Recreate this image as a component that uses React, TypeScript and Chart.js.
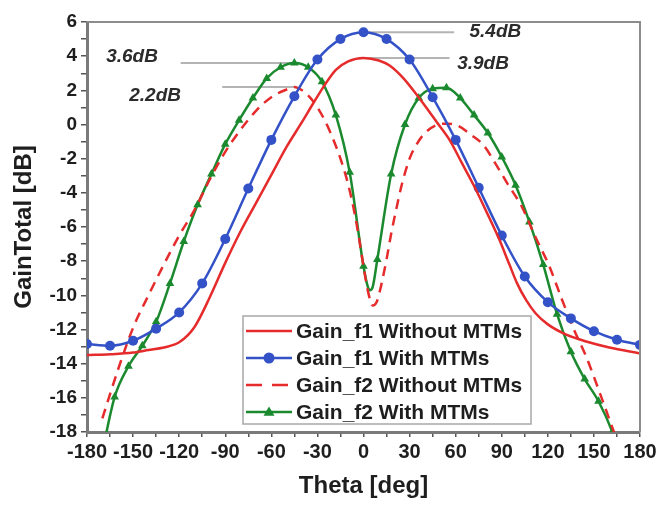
import React, { useEffect, useRef } from "react";
import { Chart, registerables } from "chart.js";

Chart.register(...registerables);

// ---------- data ----------
const seriesNames = [
  "Gain_f1 Without MTMs",
  "Gain_f1 With MTMs",
  "Gain_f2 Without MTMs",
  "Gain_f2 With MTMs",
];

const thetaF1Without = [-180, -165, -150, -140, -130, -120, -110, -100, -90, -80, -70, -60, -50, -40, -33, -25, -18, -10, 0, 10, 17, 25, 32, 40, 48, 56, 64, 72, 80, 88, 95, 100, 106, 112, 120, 132, 145, 160, 180];
const gainF1Without = [-13.5, -13.45, -13.35, -13.2, -13.05, -12.75, -11.85, -10.1, -8.1, -6.25, -4.6, -2.95, -1.3, 0.15, 1.2, 2.35, 3.2, 3.7, 3.9, 3.75, 3.45, 2.8, 2.05, 1.1, 0.1, -0.9, -2.25, -3.6, -5.1, -6.65, -8.2, -9.3, -10.3, -11.05, -11.7, -12.3, -12.7, -13.05, -13.4];

const thetaF1With = [-180, -165, -150, -135, -120, -105, -90, -75, -60, -45, -30, -15, 0, 15, 30, 45, 60, 75, 90, 105, 120, 135, 150, 165, 180];
const gainF1With = [-12.85, -12.95, -12.66, -11.95, -11.0, -9.3, -6.7, -3.75, -0.9, 1.65, 3.8, 5.0, 5.4, 5.0, 3.8, 1.6, -0.9, -3.7, -6.5, -8.9, -10.4, -11.35, -12.1, -12.6, -12.9];

const thetaF2Without = [-170, -160, -150, -140, -130, -120, -110, -100, -90, -80, -70, -60, -50, -45, -40, -35, -30, -25, -20, -15, -10, -6, -3, 0, 3, 6, 8.5, 10.5, 12.5, 15, 18, 21, 25, 30, 35, 40, 47, 55, 62, 70, 78, 86, 94, 103, 112, 121, 129, 137, 145, 155, 163, 170];
const gainF2Without = [-17.2, -14.4, -11.9, -10.0, -8.2, -6.5, -5.0, -3.2, -1.6, -0.3, 0.8, 1.6, 2.05, 2.2, 2.0, 1.6, 1.0, 0.2, -0.8, -2.0, -3.5, -5.1, -6.6, -8.3, -9.8, -10.6, -10.4, -9.8, -9.0, -7.9, -6.4, -5.1, -3.5, -2.0, -1.1, -0.5, -0.05, 0.05, -0.1, -0.6, -1.2, -2.3, -3.5, -4.8, -6.6, -8.3, -10.2, -12.0, -13.6, -16.0, -18.0, -19.8];

const thetaF2With = [-171, -162, -153, -144, -135, -126, -117, -108, -99, -90, -81, -72, -63, -54, -45, -36, -27, -18, -9, 0, 2.5, 4, 6, 9, 18, 27, 36, 45, 54, 63, 72, 81, 90, 99, 108, 117, 126, 135, 144, 153, 162, 171];
const gainF2With = [-19.6, -15.95, -14.15, -12.95, -11.55, -9.3, -6.85, -4.7, -2.9, -1.15, 0.25, 1.55, 2.7, 3.35, 3.6, 3.35, 2.5, 0.55, -2.8, -8.3, -9.4, -9.7, -9.5, -7.9, -2.9, 0.0, 1.55, 2.1, 2.15, 1.55, 0.55, -0.5, -1.9, -3.55, -5.7, -8.2, -11.1, -13.3, -14.9, -16.2, -18.0, -20.5];

// peak annotations
const peakLabels = ["5.4dB", "3.9dB", "3.6dB", "2.2dB"];
const peakValues = [5.4, 3.9, 3.6, 2.2];
const peakLineFrom = [0, 0, -119, -92];
const peakLineTo = [59, 56, -45, -45];
const peakLabelTheta = [69, 61, -167.5, -152.5];
const peakLabelValue = [5.45, 3.55, 3.97, 1.68];

const xTickStep = 15;
const yTickStep = 1;

// ---------- styles ----------
const RED = "#e52b2b";
const BLUE = "#3452c8";
const GREEN = "#1b8a2f";
const FONT = "'Liberation Sans', Arial, sans-serif";

const toPts = (xs: number[], ys: number[]) => xs.map((x, i) => ({ x, y: ys[i] }));

const frameAndNotes = {
  id: "frameAndNotes",
  beforeDatasetsDraw(chart: any) {
    const { ctx, scales } = chart;
    const xs = scales.x;
    const ys = scales.y;
    ctx.save();
    ctx.strokeStyle = "#b4b4b4";
    ctx.lineWidth = 2;
    for (let i = 0; i < peakValues.length; i++) {
      const y = ys.getPixelForValue(peakValues[i]);
      ctx.beginPath();
      ctx.moveTo(xs.getPixelForValue(peakLineFrom[i]), y);
      ctx.lineTo(xs.getPixelForValue(peakLineTo[i]), y);
      ctx.stroke();
    }
    ctx.restore();
  },
  afterDraw(chart: any) {
    const { ctx, chartArea, scales } = chart;
    const xs = scales.x;
    const ys = scales.y;
    ctx.save();
    // top & right frame
    ctx.strokeStyle = "#8c8c8c";
    ctx.lineWidth = 2;
    ctx.beginPath();
    ctx.moveTo(chartArea.left, chartArea.top);
    ctx.lineTo(chartArea.right, chartArea.top);
    ctx.lineTo(chartArea.right, chartArea.bottom);
    ctx.stroke();

    // peak labels
    ctx.fillStyle = "#2b2b2b";
    ctx.font = `italic bold 19px ${FONT}`;
    ctx.textAlign = "left";
    ctx.textBaseline = "middle";
    for (let i = 0; i < peakLabels.length; i++) {
      ctx.fillText(peakLabels[i], xs.getPixelForValue(peakLabelTheta[i]), ys.getPixelForValue(peakLabelValue[i]));
    }

    // legend box
    const bx = chartArea.left + 156;
    const by = chartArea.top + 294;
    const bw = 288;
    const bh = 108;
    ctx.fillStyle = "#ffffff";
    ctx.fillRect(bx, by, bw, bh);
    ctx.strokeStyle = "#a8a8a8";
    ctx.lineWidth = 1.5;
    ctx.strokeRect(bx, by, bw, bh);
    const rowH = 27;
    chart.data.datasets.forEach((ds: any, i: number) => {
      const cy = by + 15 + i * rowH;
      ctx.save();
      ctx.strokeStyle = ds.borderColor;
      ctx.lineWidth = ds.borderWidth;
      ctx.setLineDash(ds.borderDash && ds.borderDash.length ? [16, 10] : []);
      ctx.beginPath();
      ctx.moveTo(bx + 3, cy);
      ctx.lineTo(bx + 49, cy);
      ctx.stroke();
      ctx.setLineDash([]);
      ctx.fillStyle = ds.borderColor;
      const mx = bx + 26;
      if (ds.legendMarker === "circle") {
        ctx.beginPath();
        ctx.arc(mx, cy, 5.5, 0, Math.PI * 2);
        ctx.fill();
      } else if (ds.legendMarker === "triangle") {
        const r = 5.5;
        ctx.beginPath();
        ctx.moveTo(mx, cy - r);
        ctx.lineTo(mx + r, cy + r * 0.7);
        ctx.lineTo(mx - r, cy + r * 0.7);
        ctx.closePath();
        ctx.fill();
      }
      ctx.restore();
      ctx.fillStyle = "#1e1e1e";
      ctx.font = `bold 21px ${FONT}`;
      ctx.textAlign = "left";
      ctx.textBaseline = "middle";
      ctx.fillText(ds.label, bx + 53, cy + 1);
    });
    ctx.restore();
  },
};

export default function App() {
  const ref = useRef<HTMLCanvasElement | null>(null);

  useEffect(() => {
    if (!ref.current) return;
    const chart = new Chart(ref.current, {
      type: "line",
      data: {
        datasets: [
          {
            label: seriesNames[0],
            data: toPts(thetaF1Without, gainF1Without),
            borderColor: RED,
            backgroundColor: RED,
            borderWidth: 2.5,
            pointRadius: 0,
            cubicInterpolationMode: "monotone",
            legendMarker: "none",
          } as any,
          {
            label: seriesNames[1],
            data: toPts(thetaF1With, gainF1With),
            borderColor: BLUE,
            backgroundColor: BLUE,
            borderWidth: 2.5,
            pointRadius: 5,
            pointStyle: "circle",
            pointBorderWidth: 0,
            cubicInterpolationMode: "monotone",
            legendMarker: "circle",
          } as any,
          {
            label: seriesNames[2],
            data: toPts(thetaF2Without, gainF2Without),
            borderColor: RED,
            backgroundColor: RED,
            borderWidth: 2.5,
            borderDash: [10, 7],
            pointRadius: 0,
            cubicInterpolationMode: "monotone",
            legendMarker: "none",
          } as any,
          {
            label: seriesNames[3],
            data: toPts(thetaF2With, gainF2With),
            borderColor: GREEN,
            backgroundColor: GREEN,
            borderWidth: 2.5,
            pointStyle: "triangle",
            pointRadius: (c: any) => (Number.isInteger(thetaF2With[c.dataIndex] / 9) ? 5 : 0),
            pointBorderWidth: 0,
            cubicInterpolationMode: "monotone",
            legendMarker: "triangle",
          } as any,
        ],
      },
      options: {
        animation: false,
        responsive: false,
        events: [],
        layout: { padding: { top: 22, right: 20, left: 0, bottom: 0 } },
        plugins: { legend: { display: false }, tooltip: { enabled: false } },
        scales: {
          x: {
            type: "linear",
            min: -180,
            max: 180,
            afterFit: (s: any) => {
              s.height = 73;
            },
            ticks: {
              stepSize: xTickStep,
              autoSkip: false,
              maxRotation: 0,
              padding: 3,
              color: "#1e1e1e",
              font: { family: FONT, weight: "bold", size: 20 },
              callback: (v: any) => (Number(v) % 30 === 0 ? String(v) : ""),
            },
            grid: { drawOnChartArea: false, drawTicks: true, tickLength: 5, color: "#555", lineWidth: 1.5 },
            border: { display: true, color: "#7a7a7a", width: 3 },
            title: {
              display: true,
              text: "Theta [deg]",
              color: "#1e1e1e",
              font: { family: FONT, weight: "bold", size: 24 },
              padding: { top: 0, bottom: 4 },
            },
          },
          y: {
            type: "linear",
            min: -18,
            max: 6,
            afterFit: (s: any) => {
              s.width = 87;
            },
            ticks: {
              stepSize: yTickStep,
              autoSkip: false,
              padding: 4,
              color: "#1e1e1e",
              font: { family: FONT, weight: "bold", size: 19 },
              callback: (v: any) => (Number(v) % 2 === 0 ? String(v) : ""),
            },
            grid: { drawOnChartArea: false, drawTicks: true, tickLength: 6, color: "#555", lineWidth: 1.5 },
            border: { display: true, color: "#7a7a7a", width: 3 },
            title: {
              display: true,
              text: "GainTotal [dB]",
              color: "#1e1e1e",
              font: { family: FONT, weight: "bold", size: 24 },
              padding: { top: 10, bottom: 0 },
            },
          },
        },
      },
      plugins: [frameAndNotes],
    } as any);
    return () => chart.destroy();
  }, []);

  return (
    <div style={{ position: "fixed", left: 0, top: 0, width: 660, height: 505, background: "#fff" }}>
      <canvas ref={ref} width={660} height={505} />
    </div>
  );
}
